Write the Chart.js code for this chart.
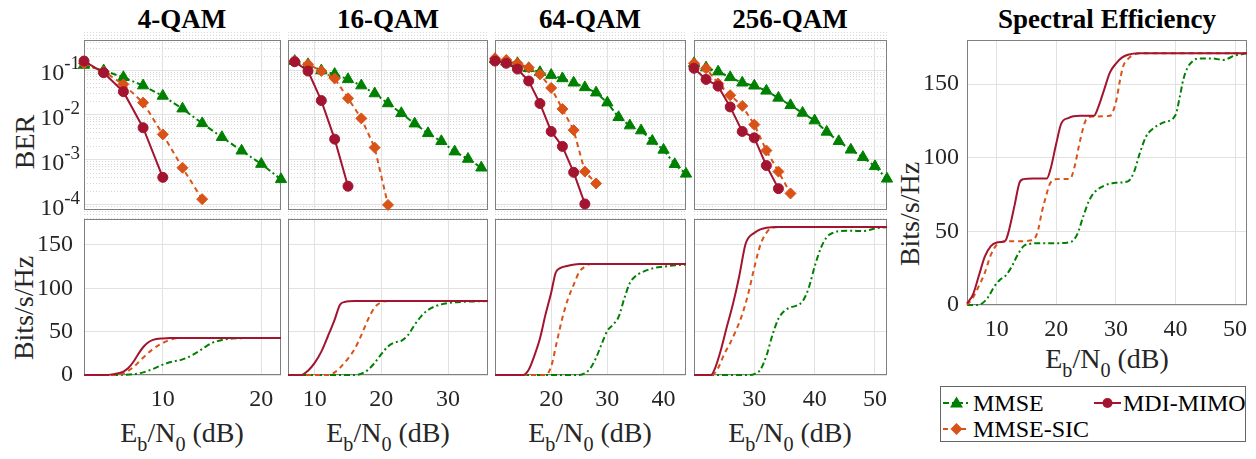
<!DOCTYPE html>
<html lang="en">
<head>
  <meta charset="UTF-8" />
  <title>BER and spectral efficiency</title>
  <script src="https://cdn.jsdelivr.net/npm/chart.js"></script>
  <style>
    * { margin: 0; padding: 0; box-sizing: border-box; }
    body { background: #fff; font-family: "Liberation Serif", "Times New Roman", "DejaVu Serif", serif; color: #000; }
    #fig { position: relative; width: 1256px; height: 459px; overflow: hidden; }
    #fig canvas { position: absolute; }
    .t { position: absolute; top: 4px; font-weight: bold; font-size: 27px; line-height: 30px; transform: translateX(-50%); white-space: nowrap; }
    .xl { position: absolute; font-size: 28px; line-height: 28px; transform: translateX(-50%); white-space: nowrap; color: #262626; }
    .xl sub { font-size: 0.72em; vertical-align: -0.45em; line-height: 0; }
    .yl { position: absolute; font-size: 28px; line-height: 28px; transform: translate(-50%, -50%) rotate(-90deg); white-space: nowrap; color: #262626; }
    #legend { position: absolute; left: 940px; top: 386px; width: 306px; height: 56px; border: 1px solid #666; background: #fff; }
    #legend svg { position: absolute; }
    #legend span { position: absolute; font-size: 24px; line-height: 24px; white-space: nowrap; }
  </style>
</head>
<body>
  <div id="fig">
    <div class="t" style="left:182px">4-QAM</div>
    <div class="t" style="left:388px">16-QAM</div>
    <div class="t" style="left:590px">64-QAM</div>
    <div class="t" style="left:790px">256-QAM</div>
    <div class="t" style="left:1107px">Spectral Efficiency</div>

    <div class="yl" style="left:25px;top:142px">BER</div>
    <div class="yl" style="left:24px;top:308px">Bits/s/Hz</div>
    <div class="yl" style="left:910px;top:214px">Bits/s/Hz</div>

    <div class="xl" style="left:182px;top:419px">E<sub>b</sub>/N<sub>0</sub> (dB)</div>
    <div class="xl" style="left:388px;top:419px">E<sub>b</sub>/N<sub>0</sub> (dB)</div>
    <div class="xl" style="left:590px;top:419px">E<sub>b</sub>/N<sub>0</sub> (dB)</div>
    <div class="xl" style="left:790px;top:419px">E<sub>b</sub>/N<sub>0</sub> (dB)</div>
    <div class="xl" style="left:1107px;top:345px">E<sub>b</sub>/N<sub>0</sub> (dB)</div>

    <div id="legend">
      <svg style="left:1px;top:6px" width="30" height="20">
        <line x1="1" y1="10" x2="28" y2="10" stroke="#008000" stroke-width="2" stroke-dasharray="6,3,2,3" />
        <polygon points="14.5,3.5 21,14.5 8,14.5" fill="#008000" />
      </svg>
      <span style="left:32px;top:4px">MMSE</span>
      <svg style="left:1px;top:32px" width="30" height="20">
        <line x1="1" y1="10" x2="28" y2="10" stroke="#D95319" stroke-width="2" stroke-dasharray="5,4" />
        <polygon points="14.5,4 20.5,10 14.5,16 8.5,10" fill="#D95319" />
      </svg>
      <span style="left:32px;top:30px">MMSE-SIC</span>
      <svg style="left:152px;top:6px" width="30" height="20">
        <line x1="1" y1="10" x2="28" y2="10" stroke="#A2142F" stroke-width="2" />
        <circle cx="14.5" cy="10" r="5" fill="#A2142F" />
      </svg>
      <span style="left:182px;top:4px">MDI-MIMO</span>
    </div>
  </div>

  <script>
    // ---- BER curves (markers) ----
    const ebn0Ber4 = [2, 4, 6, 8, 10, 12, 14, 16, 18, 20, 22];
    const ber4Mmse = [0.129, 0.097, 0.069, 0.045, 0.0265, 0.0138, 0.0065, 0.0032, 0.0016, 0.00081, 0.00037];
    const ber4Sic = [0.14, 0.092, 0.048, 0.0188, 0.0037, 0.00067, 0.000134];
    const ber4Mdi = [0.158, 0.087, 0.033, 0.0052, 0.00041];

    const ebn0Ber16 = [7, 9, 11, 13, 15, 17, 19, 21, 23, 25, 27, 29, 31, 33, 35];
    const ber16Mmse = [0.158, 0.134, 0.097, 0.081, 0.062, 0.045, 0.030, 0.018, 0.0109, 0.0064, 0.0039, 0.0026, 0.00153, 0.00105, 0.00067];
    const ber16Sic = [0.158, 0.134, 0.095, 0.065, 0.0235, 0.0084, 0.00188, 0.0001];
    const ber16Mdi = [0.153, 0.095, 0.0209, 0.0029, 0.00026];

    const ebn0Ber64 = [10, 12, 14, 16, 18, 20, 22, 24, 26, 28, 30, 32, 34, 36, 38, 40, 42, 44];
    const ber64Mmse = [0.173, 0.153, 0.141, 0.109, 0.089, 0.077, 0.065, 0.052, 0.041, 0.0313, 0.0188, 0.0089, 0.0058, 0.0045, 0.00264, 0.00167, 0.0008, 0.00049];
    const ber64Sic = [0.182, 0.167, 0.141, 0.113, 0.080, 0.040, 0.0136, 0.0046, 0.00055, 0.0003];
    const ber64Mdi = [0.158, 0.141, 0.105, 0.057, 0.018, 0.0043, 0.0020, 0.00053, 0.000105];

    const ebn0Ber256 = [20, 22, 24, 26, 28, 30, 32, 34, 36, 38, 40, 42, 44, 46, 48, 50, 52];
    const ber256Mmse = [0.141, 0.113, 0.092, 0.0686, 0.052, 0.0446, 0.0344, 0.024, 0.0164, 0.0111, 0.0075, 0.0042, 0.0026, 0.00168, 0.00115, 0.00072, 0.00038];
    const ber256Sic = [0.141, 0.109, 0.050, 0.0275, 0.0159, 0.0061, 0.00162, 0.00055, 0.00018];
    const ber256Mdi = [0.109, 0.0618, 0.0438, 0.0151, 0.0043, 0.0031, 0.00075, 0.00023];

    // ---- throughput curves, [Eb/N0, bits/s/Hz] ----
    const tp4Mdi = [[2,0],[4,0],[5,1],[6,4],[6.5,8],[7,15],[7.5,24],[8,32],[8.5,37.5],[9,40.5],[10,42.2],[11,42.6],[12,42.7],[22,42.7]];
    const tp4Sic = [[2,0],[5,0],[6,2],[7,9],[8,20],[9,30],[10,37],[11,41.5],[12,42.7],[22,42.7]];
    const tp4Mmse = [[2,0],[5,0],[6,0.3],[7,1],[8,3],[9,7],[10,12],[11,15.5],[12,18],[13,23],[14,30],[15,37],[16,40.5],[17,42],[18,42.5],[20,42.7],[22,42.7]];

    const tp16Mdi = [[6,0],[8,0],[9,5],[10,14],[11,27],[12,45],[13,64],[13.8,81],[14.5,84.3],[16,85.3],[36,85.3]];
    const tp16Sic = [[6,0],[12,0],[13,3],[14,10],[15,19],[16,30],[17,46],[18,64],[19,78],[20,84],[21,85.3],[36,85.3]];
    const tp16Mmse = [[6,0],[16,0],[17,1.5],[18,6],[19,14],[20,24],[21,33],[22,37.5],[23,39.5],[24,46],[25,58],[26,68],[27,75],[28,79],[29,81.5],[30,83],[32,84.3],[36,85.3]];

    const tp64Mdi = [[10,0],[15,0],[16,6],[17,22],[18,42],[19,70],[20,95],[20.8,118],[21.5,123],[23,126],[25,128],[44,128]];
    const tp64Sic = [[10,0],[19,0],[20,10],[21,38],[22,66],[23,88],[24,104],[25,119],[26,125],[27,128],[44,128]];
    const tp64Mmse = [[10,0],[25,0],[26,2],[27,8],[28,20],[29,36],[30,51],[31,58],[32,67],[33,88],[34,106],[35,114],[36,118],[38,123],[40,125],[42,126.5],[44,127.5]];

    const tp256Mdi = [[20,0],[22.8,0],[23.5,8],[24.5,30],[25.5,57],[26.5,83],[27.5,114],[28.5,150],[29,158],[30,164],[31,168],[32,170],[34,170.7],[52,170.7]];
    const tp256Sic = [[20,0],[23,0],[24,8],[25,24],[26,37],[27,52],[28,70],[29,94],[30,124],[31,150],[32,164],[33,170],[34,170.7],[52,170.7]];
    const tp256Mmse = [[20,0],[29,0],[30,1],[31,6],[32,22],[33,46],[34,65],[35,74],[36,78],[37,80],[38,85],[39,100],[40,125],[41,146],[42,159],[43,164],[44,166],[46,166.5],[48,166],[50,169],[52,170.7]];

    // ---- spectral efficiency (all modulations) ----
    const seMdi = [[5,1],[6,7],[7,20],[8,33],[9,40],[10,42.5],[11,43],[11.5,44],[12,50],[13,68],[13.8,83],[14.5,85.5],[16,86],[18.4,86],[19,92],[20,110],[20.8,123],[22,127],[24,128.5],[26.3,128.5],[27,134],[28,146],[29,158],[30,164],[31,168],[32,170],[34,171],[52,171]];
    const seSic = [[5,0],[6,5],[7,13],[8,22],[9,34],[10,41],[11,43],[13,43.3],[16,44],[16.5,46],[17,52],[17.5,62],[18,70],[19,83],[20,85.5],[22.3,85.7],[23,93],[24,112],[25,126],[26,128],[29,128.5],[30,138],[30.7,153],[31.2,162],[32,167],[33,170],[34,171],[52,171]];
    const seMmse = [[5,0],[6.5,0],[7.5,1],[8.5,5],[9.5,12],[10.5,17],[11.5,20],[12.5,26],[13.5,34],[14.5,40],[15.5,41.5],[17,42],[20,42],[22.5,43],[23.5,48],[24.5,60],[25.5,71],[26.5,77],[28,81],[30,83],[32,84],[33,90],[34,103],[35,114],[36,119],[38,124],[40,129],[40.7,141],[41.3,153],[42,161],[43,166],[44,167.5],[46,167.5],[48,166.5],[50,169.5],[52,171]];

    // ---- tick labels ----
    const berTicks = [1e-4, 1e-3, 1e-2, 1e-1];
    const bitsTicks = [0, 50, 100, 150];
    const xTicks4 = [10, 20];
    const xTicks16 = [10, 20, 30];
    const xTicks64 = [20, 30, 40];
    const xTicks256 = [30, 40, 50];
    const xTicksSe = [10, 20, 30, 40, 50];

    const GREEN = '#008000', ORANGE = '#D95319', RED = '#A2142F';
    const GRID = '#e2e2e2', GRID_MINOR = '#d6d6d6';
    const FONT = '"Liberation Serif", "Times New Roman", "DejaVu Serif", serif';

    const styles = {
      'MDI-MIMO': { c: RED, dash: [], pt: 'circle', r: 5 },
      'MMSE-SIC': { c: ORANGE, dash: [5, 4], pt: 'rectRot', r: 5.5 },
      'MMSE': { c: GREEN, dash: [6, 3, 2, 3], pt: 'triangle', r: 6.5 }
    };

    function ds(name, data, markers) {
      const s = styles[name];
      return {
        label: name, data,
        borderColor: s.c, backgroundColor: s.c, borderDash: s.dash, borderWidth: 2,
        pointStyle: s.pt, pointRadius: markers ? s.r : 0, pointBorderWidth: 1,
        tension: markers ? 0 : 0.4, cubicInterpolationMode: markers ? 'default' : 'monotone',
        clip: false
      };
    }
    const zip = (xs, ys) => ys.map((y, i) => [xs[i], y]);

    // log grid: 1..9 x 10^n between the decades
    const berGrid = [];
    berTicks.concat([1]).forEach(d => {
      for (let m = 1; m < 10; m++) berGrid.push({ value: m * d / 10, major: m === 1 });
    });

    const boxPlugin = {
      id: 'box',
      beforeDatasetsDraw(chart) {
        const a = chart.chartArea, c = chart.ctx;
        c.save();
        c.strokeStyle = '#808080';
        c.lineWidth = 1;
        c.strokeRect(Math.round(a.left) + 0.5, Math.round(a.top) + 0.5, Math.round(a.right - a.left) - 1, Math.round(a.bottom - a.top) - 1);
        c.restore();
      }
    };

    const tickText = {
      id: 'tickText',
      afterDraw(chart, args, o) {
        const c = chart.ctx, a = chart.chartArea;
        c.save();
        c.fillStyle = '#262626';
        c.textBaseline = 'middle';
        c.font = '24px ' + FONT;
        if (o.x) {
          const s = chart.scales.x;
          c.textAlign = 'center';
          s.ticks.forEach(t => c.fillText(String(t.value), s.getPixelForValue(t.value), a.bottom + 25));
        }
        if (o.y) {
          const s = chart.scales.y;
          c.textAlign = 'right';
          s.ticks.forEach(t => c.fillText(String(t.value), a.left - o.yGap, s.getPixelForValue(t.value)));
        }
        if (o.log) {
          const s = chart.scales.y;
          s.ticks.filter(t => t.major && t.value < 0.5).forEach(t => {
            const py = s.getPixelForValue(t.value);
            const sup = '-' + Math.abs(Math.round(Math.log10(t.value)));
            c.font = '19px ' + FONT;
            const w = c.measureText(sup).width;
            c.textAlign = 'left';
            c.fillText(sup, a.left - 4 - w, py - 6);
            c.font = '24px ' + FONT;
            c.textAlign = 'right';
            c.fillText('10', a.left - 4 - w, py + 4);
          });
        }
        c.restore();
      }
    };

    function xScale(min, max, ticks) {
      return {
        type: 'linear', min, max,
        afterBuildTicks: s => { s.ticks = ticks.map(v => ({ value: v })); },
        afterFit: s => { s.height = 0; },
        ticks: { display: false },
        grid: { color: GRID, drawTicks: false },
        border: { display: false }
      };
    }
    function yBits() {
      return {
        type: 'linear', min: 0, max: 180,
        afterBuildTicks: s => { s.ticks = bitsTicks.map(v => ({ value: v })); },
        afterFit: s => { s.width = 0; },
        ticks: { display: false },
        grid: { color: GRID, drawTicks: false },
        border: { display: false }
      };
    }
    function yBer() {
      return {
        type: 'logarithmic', min: 7.7e-5, max: 0.465,
        afterBuildTicks: s => { s.ticks = berGrid.map(t => ({ value: t.value, major: t.major })); },
        afterFit: s => { s.width = 0; },
        ticks: { display: false },
        grid: { color: ctx => (ctx.tick && ctx.tick.major ? GRID : GRID_MINOR), drawTicks: false },
        border: { display: false, dash: ctx => (ctx.tick && ctx.tick.major ? [] : [1, 2]) }
      };
    }

    function panel(rect, datasets, xs, ys, labels) {
      const [l, t, w, h] = rect;
      const pad = { left: labels.y || labels.log ? 80 : 10, top: 10, right: 14, bottom: labels.x ? 44 : 10 };
      const cv = document.createElement('canvas');
      cv.width = w + pad.left + pad.right;
      cv.height = h + pad.top + pad.bottom;
      cv.style.left = (l - pad.left) + 'px';
      cv.style.top = (t - pad.top) + 'px';
      document.getElementById('fig').insertBefore(cv, document.getElementById('legend'));
      new Chart(cv, {
        type: 'line',
        data: { datasets },
        options: {
          responsive: false, animation: false, devicePixelRatio: 1,
          layout: { padding: pad, autoPadding: false },
          plugins: { legend: { display: false }, tooltip: { enabled: false }, tickText: labels },
          scales: { x: xs, y: ys }
        },
        plugins: [boxPlugin, tickText]
      });
    }

    const berSets = (x, mdi, sic, mmse) => [ds('MDI-MIMO', zip(x, mdi), true), ds('MMSE-SIC', zip(x, sic), true), ds('MMSE', zip(x, mmse), true)];
    const tpSets = (mdi, sic, mmse) => [ds('MDI-MIMO', mdi, false), ds('MMSE-SIC', sic, false), ds('MMSE', mmse, false)];

    const TOP = 40, TOP_H = 170, BOT = 219, BOT_H = 156;

    panel([84, TOP, 197, TOP_H], berSets(ebn0Ber4, ber4Mdi, ber4Sic, ber4Mmse), xScale(2, 22, xTicks4), yBer(), { log: true });
    panel([288, TOP, 200, TOP_H], berSets(ebn0Ber16, ber16Mdi, ber16Sic, ber16Mmse), xScale(6, 36, xTicks16), yBer(), {});
    panel([495, TOP, 191, TOP_H], berSets(ebn0Ber64, ber64Mdi, ber64Sic, ber64Mmse), xScale(10, 44, xTicks64), yBer(), {});
    panel([694, TOP, 193, TOP_H], berSets(ebn0Ber256, ber256Mdi, ber256Sic, ber256Mmse), xScale(20, 52, xTicks256), yBer(), {});

    panel([84, BOT, 197, BOT_H], tpSets(tp4Mdi, tp4Sic, tp4Mmse), xScale(2, 22, xTicks4), yBits(), { x: true, y: true, yGap: 11 });
    panel([288, BOT, 200, BOT_H], tpSets(tp16Mdi, tp16Sic, tp16Mmse), xScale(6, 36, xTicks16), yBits(), { x: true });
    panel([495, BOT, 191, BOT_H], tpSets(tp64Mdi, tp64Sic, tp64Mmse), xScale(10, 44, xTicks64), yBits(), { x: true });
    panel([694, BOT, 193, BOT_H], tpSets(tp256Mdi, tp256Sic, tp256Mmse), xScale(20, 52, xTicks256), yBits(), { x: true });

    panel([967, 40, 280, 265], tpSets(seMdi, seSic, seMmse), xScale(5, 52, xTicksSe), yBits(), { x: true, y: true, yGap: 8 });
  </script>
</body>
</html>
